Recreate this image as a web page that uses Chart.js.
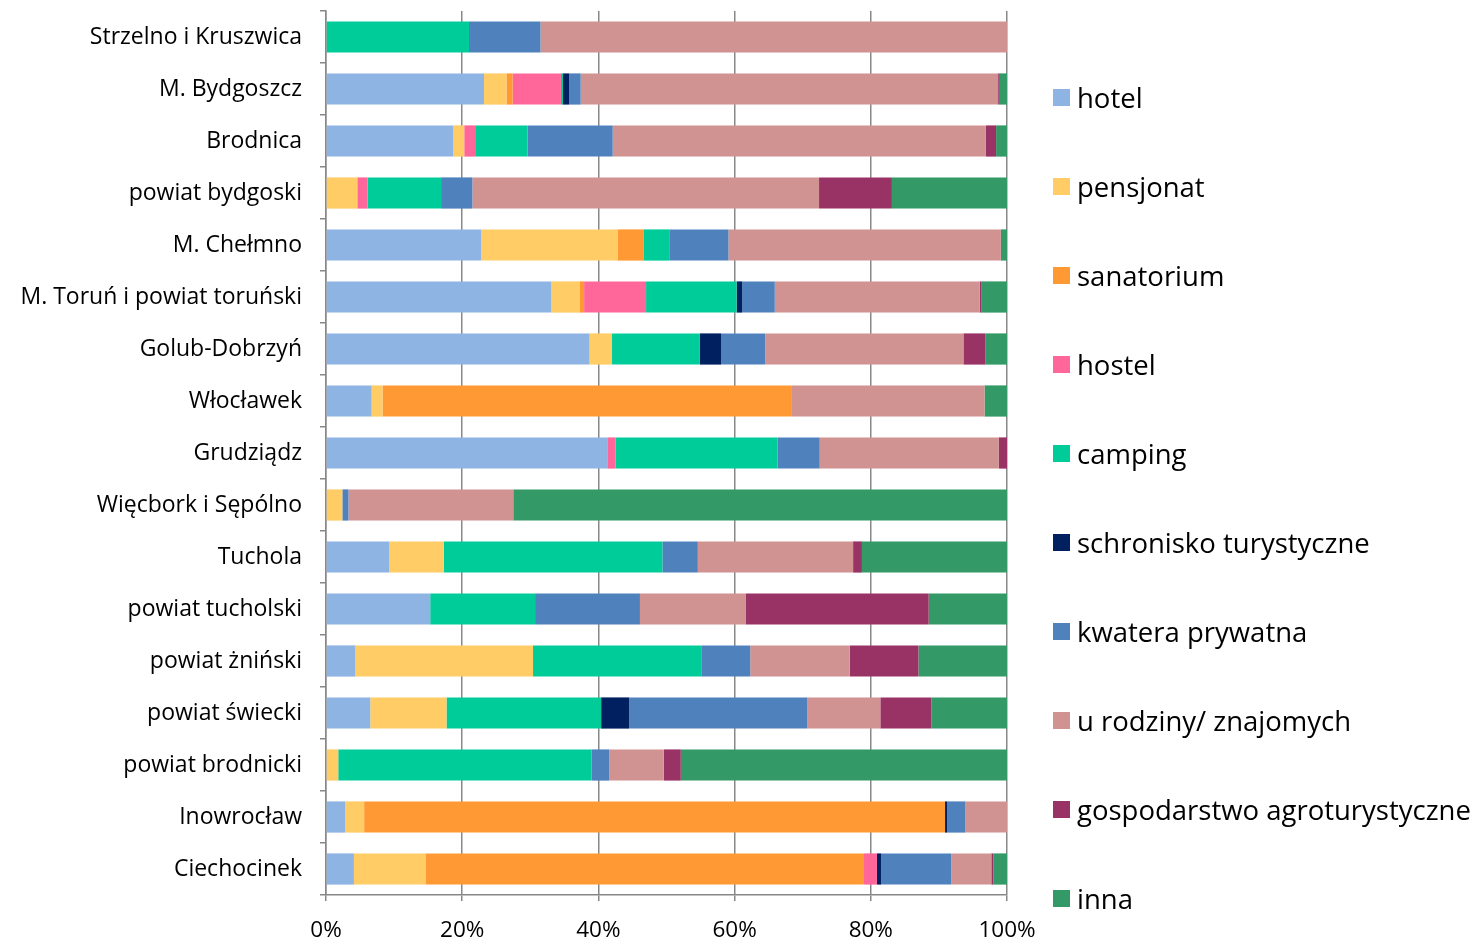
<!DOCTYPE html>
<html>
<head>
<meta charset="utf-8">
<script src="https://cdn.jsdelivr.net/npm/chart.js@4"></script>
<style>
  html, body { margin: 0; padding: 0; background: #fff; }
  #wrap { position: relative; width: 1475px; height: 941px; }
  #chart { display: block; }
  #legend { position: absolute; left: 1053px; top: 0; font-family: "Open Sans", sans-serif; font-size: 27.5px; color: #000; }
  #legend .item { position: absolute; left: 0; white-space: nowrap; display: flex; align-items: center; }
  #legend .box { width: 17px; height: 17px; margin-right: 7px; }
</style>
</head>
<body>
<div id="wrap">
  <canvas id="chart" width="1475" height="941"></canvas>
  <div id="legend"></div>
</div>
<script>
// Kategorie (od góry)
const kategorie = ['Strzelno i Kruszwica', 'M. Bydgoszcz', 'Brodnica', 'powiat bydgoski', 'M. Chełmno',
  'M. Toruń i powiat toruński', 'Golub-Dobrzyń', 'Włocławek', 'Grudziądz', 'Więcbork i Sępólno',
  'Tuchola', 'powiat tucholski', 'powiat żniński', 'powiat świecki', 'powiat brodnicki',
  'Inowrocław', 'Ciechocinek'];

// Udziały (%)
const hotel        = [0, 23.2, 18.7, 0, 22.8, 33.1, 38.7, 6.7, 41.3, 0, 9.3, 15.3, 4.3, 6.5, 0, 2.8, 4.1];
const pensjonat    = [0, 3.3, 1.6, 4.6, 20.0, 4.2, 3.3, 1.6, 0, 2.4, 8.0, 0, 26.1, 11.2, 1.8, 2.8, 10.5];
const sanatorium   = [0, 0.9, 0, 0, 3.8, 0.6, 0, 60.0, 0, 0, 0, 0, 0, 0, 0, 85.3, 64.4];
const hostel       = [0, 7.1, 1.6, 1.5, 0, 9.1, 0, 0, 1.2, 0, 0, 0, 0, 0, 0, 0, 1.9];
const camping      = [21.0, 0.3, 7.7, 10.8, 3.8, 13.3, 12.9, 0, 23.8, 0, 32.1, 15.4, 24.7, 22.7, 37.2, 0, 0];
const schronisko   = [0, 0.9, 0, 0, 0, 0.8, 3.1, 0, 0, 0, 0, 0, 0, 4.1, 0, 0.3, 0.6];
const kwatera      = [10.5, 1.7, 12.5, 4.6, 8.7, 4.8, 6.5, 0, 6.2, 0.9, 5.2, 15.4, 7.2, 26.2, 2.6, 2.7, 10.3];
const rodzina      = [68.5, 61.2, 54.8, 50.9, 40.0, 30.1, 29.1, 28.4, 26.3, 24.2, 22.8, 15.5, 14.6, 10.7, 8.0, 6.1, 5.9];
const gospodarstwo = [0, 0.2, 1.5, 10.7, 0, 0.2, 3.2, 0, 1.2, 0, 1.3, 26.9, 10.1, 7.5, 2.5, 0, 0.3];
const inna         = [0, 1.2, 1.6, 16.9, 0.9, 3.8, 3.2, 3.3, 0, 72.5, 21.3, 11.5, 13.0, 11.1, 47.9, 0, 2.0];

// Oś X
const xTicks = [0, 20, 40, 60, 80, 100];

const serie = [
  { label: 'hotel', data: hotel, color: '#8EB4E3' },
  { label: 'pensjonat', data: pensjonat, color: '#FFCC66' },
  { label: 'sanatorium', data: sanatorium, color: '#FF9933' },
  { label: 'hostel', data: hostel, color: '#FF6699' },
  { label: 'camping', data: camping, color: '#00CC99' },
  { label: 'schronisko turystyczne', data: schronisko, color: '#002060' },
  { label: 'kwatera prywatna', data: kwatera, color: '#4F81BD' },
  { label: 'u rodziny/ znajomych', data: rodzina, color: '#D19392' },
  { label: 'gospodarstwo agroturystyczne', data: gospodarstwo, color: '#993366' },
  { label: 'inna', data: inna, color: '#339966' }
];

const gridColor = '#888888';

const chart = new Chart(document.getElementById('chart'), {
  type: 'bar',
  data: {
    labels: kategorie,
    datasets: serie.map(s => ({
      label: s.label,
      data: s.data,
      backgroundColor: s.color,
      borderWidth: 0,
      categoryPercentage: 0.6,
      barPercentage: 1.0
    }))
  },
  options: {
    indexAxis: 'y',
    responsive: false,
    animation: false,
    layout: { padding: { top: 11, right: 468, left: 0, bottom: 0 } },
    plugins: {
      legend: { display: false },
      tooltip: { enabled: false }
    },
    scales: {
      x: {
        stacked: true,
        min: 0,
        max: 100,
        afterBuildTicks: (axis) => { axis.ticks = xTicks.map(v => ({ value: v })); },
        afterFit: (axis) => { axis.height = 46; },
        ticks: {
          callback: (v) => v + '%',
          color: '#000',
          padding: 16,
          maxRotation: 0,
          font: { family: 'Open Sans', size: 22.5 }
        },
        grid: { color: gridColor, lineWidth: 1.5, tickLength: 6 },
        border: { color: gridColor, width: 1.5 }
      },
      y: {
        stacked: true,
        afterFit: (axis) => {
          axis.width = 326;
          axis.paddingTop = 0;
          axis.paddingBottom = 0;
        },
        ticks: {
          color: '#000',
          padding: 18,
          font: { family: 'Open Sans', size: 23 }
        },
        grid: { offset: true, drawOnChartArea: false, color: gridColor, lineWidth: 1.5, tickLength: 6 },
        border: { color: gridColor, width: 1.5 }
      }
    }
  }
});

// Legenda
const legend = document.getElementById('legend');
serie.forEach((s, i) => {
  const item = document.createElement('div');
  item.className = 'item';
  item.style.top = (97 + i * 89 - 20) + 'px';
  item.style.height = '40px';
  item.innerHTML = `<span class="box" style="background:${s.color}"></span><span>${s.label}</span>`;
  legend.appendChild(item);
});
</script>
</body>
</html>
